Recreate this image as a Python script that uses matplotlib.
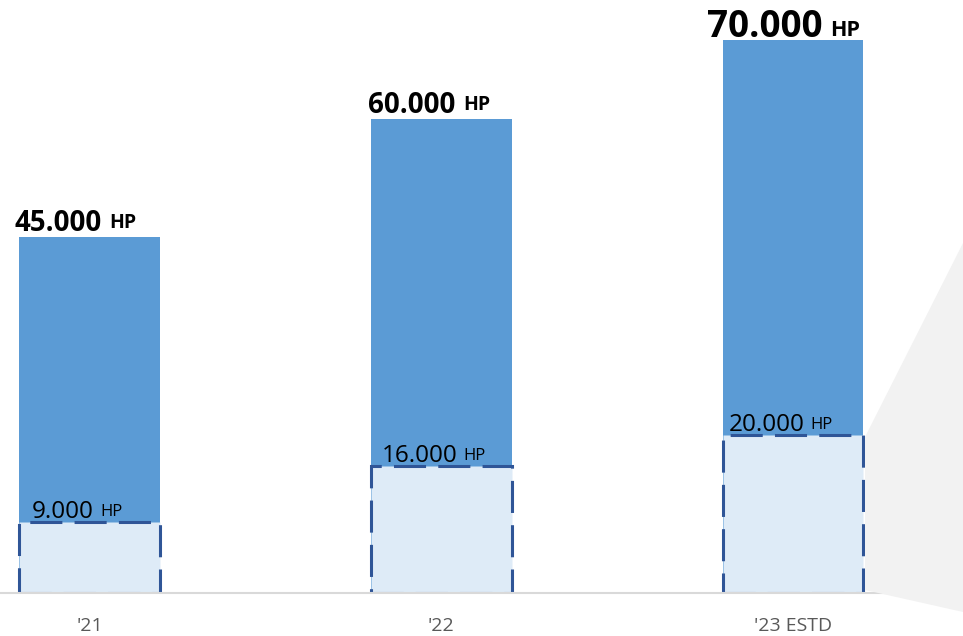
import matplotlib.pyplot as plt
from matplotlib.patches import Polygon

plt.rcParams['font.family'] = ['Open Sans', 'DejaVu Sans']

# data
years = ["'21", "'22", "'23 ESTD"]
total_hp = [45000, 60000, 70000]
part_hp = [9000, 16000, 20000]

blue = '#5B9BD5'
light = '#DEEBF7'
dark = '#2F5597'

fig = plt.figure(figsize=(9.63, 6.36), dpi=100)
ax = fig.add_axes([0, (636 - 593) / 636, 1, 593 / 636])
ax.patch.set_visible(False)

# grey wedge on the right side (decoration)
W, H = 963, 636
pts = [(865, 437), (963, 243), (963, 612), (865, 590)]
wedge = Polygon([(x / W, 1 - y / H) for x, y in pts], closed=True,
                transform=fig.transFigure, facecolor='#F2F2F2',
                edgecolor='none', zorder=0)
fig.patches.append(wedge)

x = range(len(years))
w = 0.4
ax.bar(x, total_hp, width=w, color=blue, zorder=2)
ax.bar(x, part_hp, width=w, color=light, edgecolor=dark, lw=2.2,
       linestyle=(0, (10.5, 4)), zorder=3)

ax.set_xlim(-0.2545, 2.483)
ax.set_ylim(0, 75000)

# big labels
big_dx = [-5, -3, -16]
big_dy = [6, 6, 3]
big_size = [20, 20, 26.5]
hp_size = [14, 14, 15.5]
for i, v in enumerate(total_hp):
    t = ax.annotate(f'{v:,}'.replace(',', '.'), xy=(i - w / 2, v),
                    xytext=(big_dx[i], big_dy[i]), textcoords='offset pixels',
                    ha='left', va='baseline', fontsize=big_size[i],
                    fontweight='bold', color='black', zorder=5)
    ax.annotate('HP', xy=(1, 0), xycoords=t, xytext=(8, 5),
                textcoords='offset pixels', ha='left', va='bottom',
                fontsize=hp_size[i], fontweight='bold', color='black', zorder=5)

# small labels
small_dx = [13, 11, 6]
for i, v in enumerate(part_hp):
    t = ax.annotate(f'{v:,}'.replace(',', '.'), xy=(i - w / 2, v),
                    xytext=(small_dx[i], 4), textcoords='offset pixels',
                    ha='left', va='baseline', fontsize=17.5,
                    color='black', zorder=5)
    ax.annotate('HP', xy=(1, 0), xycoords=t, xytext=(6, 4),
                textcoords='offset pixels', ha='left', va='bottom',
                fontsize=12, color='black', zorder=5)

ax.set_xticks(list(x))
ax.set_xticklabels(years, fontsize=14, color='#595959')
ax.tick_params(axis='x', length=0, pad=17)
ax.set_yticks([])
for s in ['top', 'left', 'right']:
    ax.spines[s].set_visible(False)
ax.spines['bottom'].set_color('#D9D9D9')
ax.spines['bottom'].set_linewidth(1.5)
ax.spines['bottom'].set_zorder(4)

fig.savefig('out.png', dpi=100)
